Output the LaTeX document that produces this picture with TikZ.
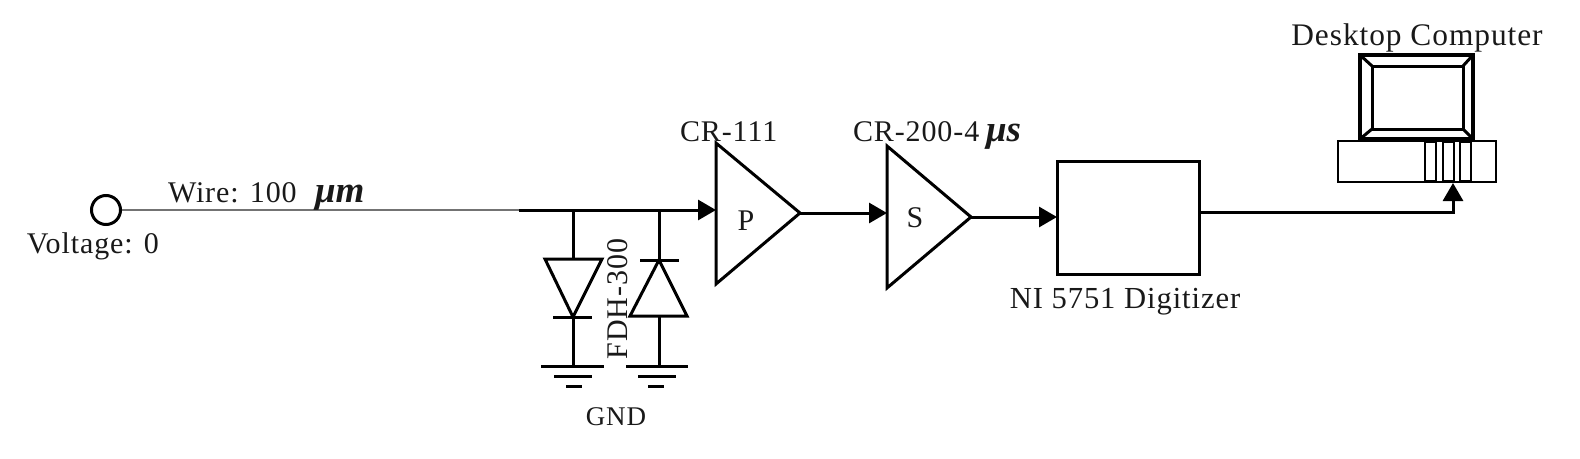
\documentclass[tikz,border=0pt]{standalone}
\usepackage{fontspec}
\setmainfont[LetterSpace=3.0]{Liberation Serif}
\newfontfamily\mufont{Liberation Serif}
\usetikzlibrary{arrows.meta}
\tikzset{
  wire/.style={line width=3pt,draw=black},
  sig/.style={wire,-{Triangle[length=18pt,width=20pt]},shorten >=0pt},
  amp/.style={line width=3pt,line join=miter,draw=black},
  lbl/.style={inner sep=0pt,outer sep=0pt,font=\fontsize{30}{30}\selectfont,text=black!90},
  lblwide/.style={lbl,font=\fontsize{31.4}{31.4}\selectfont},
  lblnarrow/.style={lbl,font=\fontsize{27}{27}\selectfont},
  thin/.style={line width=1.2pt,draw=black!55},
}
\newcommand{\mic}[1]{{\mufont\bfseries\itshape\fontsize{37}{37}\selectfont #1}}
\begin{document}
\begin{tikzpicture}[x=1pt,y=-1pt]
\useasboundingbox (0,0) rectangle (1580,458);
% source
\node[circle,draw=black,line width=3pt,minimum size=29pt,inner sep=0pt] (src) at (106,210) {};
\coordinate (wj) at (519,210);
\draw[thin] (src.east) -- (wj);
\node[lbl,anchor=base west] (wl) at (168,202) {Wire: 100};
\node[lbl,anchor=base west] (wu) at (315,202) {\mic{μm}};
\node[lbl,anchor=base west] (vl) at (27,253) {Voltage: 0};
% preamp
\coordinate (pt) at (716,143); \coordinate (pb) at (716,284); \coordinate (po) at (800,213);
\coordinate (pi) at (716,210);
\draw[amp] (pt) -- (po) -- (pb) -- cycle;
\node[lbl,anchor=base] (pl) at (746,230) {P};
\node[lbl,anchor=base west] (crp) at (680,141) {CR-111};
% shaper
\coordinate (st) at (887,146); \coordinate (sb) at (887,288); \coordinate (so) at (971,217);
\coordinate (si) at (887,213);
\draw[amp] (st) -- (so) -- (sb) -- cycle;
\node[lbl,anchor=base] (sl) at (915,227) {S};
\node[lbl,anchor=base west] (crs) at (853,141) {CR-200-4};
\node[lbl,anchor=base west] (crm) at (986,141) {\mic{μs}};
% digitizer
\coordinate (dnw) at (1057,161); \coordinate (dse) at (1199,274);
\draw[wire] (dnw) rectangle (dse);
\coordinate (di) at (1057,217); \coordinate (do) at (1199,212);
\node[lblwide,font=\fontsize{30.6}{30.6}\selectfont,anchor=base] (dl) at (1125,308) {NI 5751 Digitizer};
% connectors
\draw[sig] (wj) -- (pi);
\draw[sig] (po) -- (si);
\draw[sig] (so) -- (di);
% computer
\coordinate (pcin) at (1453,183);
\draw[wire,line width=3.2pt] (1360,55) rectangle (1473,139);
\draw[wire] (1372,66) rectangle (1463,129);
\draw[wire] (1360,55) -- (1372,66) (1473,55) -- (1463,66) (1360,139) -- (1372,129) (1473,139) -- (1463,129);
\draw[wire,line width=2.6pt] (1338,141) rectangle (1496,182);
\draw[wire,line width=2.6pt] (1425,142) rectangle (1436,181);
\draw[wire,line width=2.6pt] (1443,142) rectangle (1454,181);
\draw[wire,line width=2.6pt] (1460,142) rectangle (1471,181);
\draw[sig] (do) -| (pcin);
\node[lblwide,anchor=base] (dc) at (1417,45) {Desktop Computer};
% diodes
\coordinate (j1) at (573,210); \coordinate (j2) at (659,210);
\coordinate (g1) at (573,366); \coordinate (g2) at (659,366);
\draw[wire] (j1) -- (g1);
\draw[wire] (j2) -- (g2);
\draw[amp,fill=white] (545,259) -- (602,259) -- (573,317) -- cycle;
\draw[wire] (553,317) -- (592,317);
\draw[amp,fill=white] (630,316) -- (687,316) -- (659,260) -- cycle;
\draw[wire] (640,260) -- (679,260);
\draw[wire] (541,366) -- (604,366) (554,376) -- (592,376) (566,386) -- (582,386);
\draw[wire] (626,366) -- (688,366) (638,376) -- (676,376) (648,386) -- (664,386);
\node[lbl,rotate=90,anchor=center] (fdh) at (618,299) {FDH-300};
\node[lblnarrow,anchor=base] (gnd) at (616,425) {GND};
\end{tikzpicture}
\end{document}
